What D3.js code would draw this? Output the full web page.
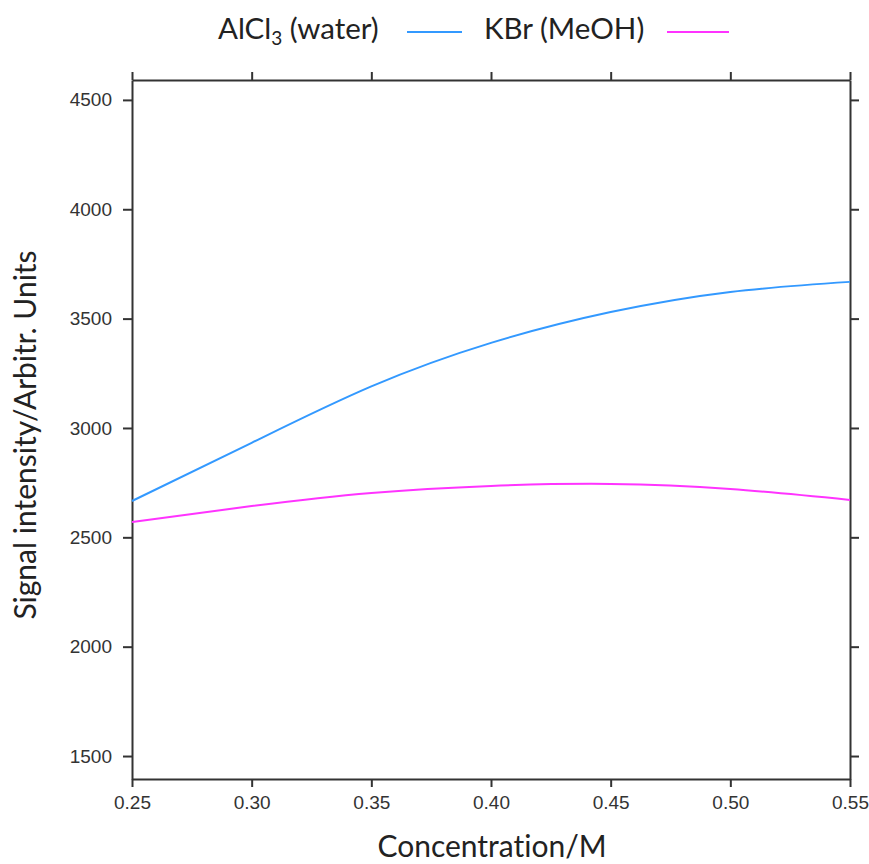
<!DOCTYPE html>
<html>
<head>
<meta charset="utf-8">
<script src="https://cdn.jsdelivr.net/npm/d3@7"></script>
<style>
  html, body { margin: 0; padding: 0; background: #fff; }
  svg { display: block; }
  text { font-variant-ligatures: none; }
</style>
</head>
<body>
<svg id="chart" width="869" height="864"></svg>
<script>
// Concentration (M) and fitted signal intensities for the two salt solutions
const concentration = [0.25, 0.30, 0.35, 0.40, 0.45, 0.50, 0.55];
const alcl3Water = [2666, 2932, 3190, 3389, 3530, 3622, 3668];
const kbrMeoh = [2570, 2643, 2703, 2735, 2744, 2721, 2671];

const xTicks = [0.25, 0.30, 0.35, 0.40, 0.45, 0.50, 0.55];
const yTicks = [1500, 2000, 2500, 3000, 3500, 4000, 4500];

const series = [
  { name: "AlCl", sub: "3", rest: " (water)", values: alcl3Water, color: "#3399ff" },
  { name: "KBr (MeOH)", sub: "", rest: "", values: kbrMeoh, color: "#ff33ff" }
];

const svg = d3.select("#chart");
const plot = { left: 132, right: 850, top: 80, bottom: 779 };
const axisColor = "#333";
const titleFont = "Lato, 'Open Sans', sans-serif";
const tickFont = "'Liberation Sans', Arial, sans-serif";

const x = d3.scaleLinear().domain([0.25, 0.55]).range([plot.left, plot.right]);
const y = d3.scaleLinear().domain([1395, 4591]).range([plot.bottom, plot.top]);

function styleAxis(g) {
  g.select(".domain").attr("stroke", axisColor).attr("stroke-width", 2);
  g.selectAll(".tick line").attr("stroke", axisColor).attr("stroke-width", 2);
  g.selectAll(".tick text")
    .attr("fill", "#333")
    .style("font-family", tickFont)
    .style("font-size", "19px");
}

// Bottom axis with labels
svg.append("g")
  .attr("transform", `translate(0,${plot.bottom})`)
  .call(d3.axisBottom(x).tickValues(xTicks).tickFormat(d3.format(".2f")).tickSize(8).tickSizeOuter(0).tickPadding(9))
  .call(styleAxis);

// Top axis, ticks only
svg.append("g")
  .attr("transform", `translate(0,${plot.top})`)
  .call(d3.axisTop(x).tickValues(xTicks).tickFormat("").tickSize(8).tickSizeOuter(0))
  .call(styleAxis);

// Left axis with labels
svg.append("g")
  .attr("transform", `translate(${plot.left},0)`)
  .call(d3.axisLeft(y).tickValues(yTicks).tickFormat(d3.format("d")).tickSize(9).tickSizeOuter(0).tickPadding(11))
  .call(styleAxis);

// Right axis, ticks only
svg.append("g")
  .attr("transform", `translate(${plot.right},0)`)
  .call(d3.axisRight(y).tickValues(yTicks).tickFormat("").tickSize(9).tickSizeOuter(0))
  .call(styleAxis);

// Curves
const line = d3.line()
  .x((d, i) => x(concentration[i]))
  .y(d => y(d))
  .curve(d3.curveNatural);

svg.append("g").selectAll("path.series")
  .data(series)
  .join("path")
  .attr("class", "series")
  .attr("fill", "none")
  .attr("stroke", d => d.color)
  .attr("stroke-width", 2)
  .attr("d", d => line(d.values));

// Axis titles
svg.append("text")
  .attr("x", (plot.left + plot.right) / 2 + 1)
  .attr("y", 857)
  .attr("text-anchor", "middle")
  .attr("fill", "#222")
  .style("font-family", titleFont)
  .style("font-size", "30px")
  .text("Concentration/M");

svg.append("text")
  .attr("transform", `translate(36,435) rotate(-90)`)
  .attr("text-anchor", "middle")
  .attr("fill", "#222")
  .style("font-family", titleFont)
  .style("font-size", "30px")
  .text("Signal intensity/Arbitr. Units");

// Legend
const legend = svg.append("g");
const legendItems = [
  { textX: 218, lineX1: 407, lineX2: 462, s: series[0] },
  { textX: 484, lineX1: 667, lineX2: 729, s: series[1] }
];
legendItems.forEach(item => {
  const t = legend.append("text")
    .attr("x", item.textX)
    .attr("y", 39)
    .attr("fill", "#222")
    .style("font-family", titleFont)
    .style("font-size", "29.5px");
  t.append("tspan").text(item.s.name);
  if (item.s.sub) {
    t.append("tspan").attr("dy", 6).style("font-size", "19px").text(item.s.sub);
    t.append("tspan").attr("dy", -6).text(item.s.rest);
  }
  legend.append("line")
    .attr("x1", item.lineX1).attr("x2", item.lineX2)
    .attr("y1", 32).attr("y2", 32)
    .attr("stroke", item.s.color)
    .attr("stroke-width", 2);
});
</script>
</body>
</html>
